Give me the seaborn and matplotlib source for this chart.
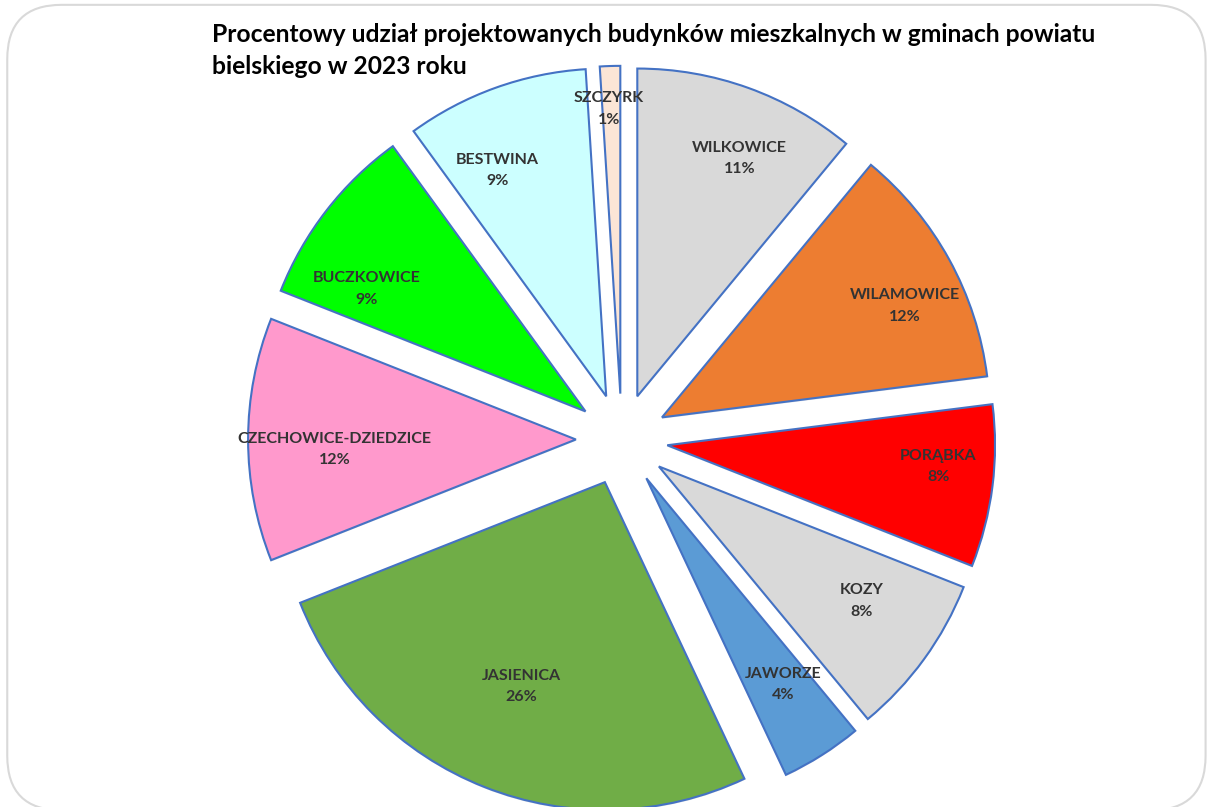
import numpy as np
import matplotlib
matplotlib.use("Agg")
import matplotlib.pyplot as plt
import seaborn as sns
from matplotlib.patches import FancyBboxPatch
import matplotlib.patheffects as pe

sns.set_theme(style="white")
plt.rcParams['font.family'] = ['Lato', 'DejaVu Sans']

gminy = ["WILKOWICE", "WILAMOWICE", "PORĄBKA", "KOZY", "JAWORZE",
         "JASIENICA", "CZECHOWICE-DZIEDZICE", "BUCZKOWICE", "BESTWINA", "SZCZYRK"]
udzial = [11, 12, 8, 8, 4, 26, 12, 9, 9, 1]
kolory = ["#D9D9D9", "#ED7D31", "#FF0000", "#D9D9D9", "#5B9BD5",
          "#70AD47", "#FF99CC", "#00FF00", "#CCFFFF", "#FBE5D6"]
tytul = ("Procentowy udział projektowanych budynków mieszkalnych w gminach powiatu\n"
         "bielskiego w 2023 roku")

# label placement inside each wedge: radial fraction and angular nudge (degrees)
label_r = [0.79, 0.815, 0.83, 0.743, 0.755, 0.673, 0.737, 0.765, 0.765, 0.87]
label_dang = [-3.5, -4.1, 2.7, 2.5, 1.1, -0.6, 2.4, 8.6, 5.9, 0.5]

fig = plt.figure(figsize=(12.08, 8.07), dpi=100)
fig.patch.set_facecolor("white")

# chart frame
frame = FancyBboxPatch((0.006, -0.004), 0.992, 0.998,
                       boxstyle="round,pad=0,rounding_size=0.045",
                       transform=fig.transFigure, facecolor="none",
                       edgecolor="#D9D9D9", linewidth=1.5, zorder=-1,
                       mutation_aspect=1.5)
fig.patches.append(frame)

ax = fig.add_axes([0.1972, -0.0198, 0.635, 0.9504])
ax.set_facecolor("none")
explode = [0.14] * len(udzial)
wedges, _ = ax.pie(udzial, colors=kolory, explode=explode, startangle=90,
                   counterclock=False, radius=1.0,
                   wedgeprops=dict(edgecolor="#4472C4", linewidth=1.5))
for w in wedges:
    w.set_path_effects([pe.SimplePatchShadow(offset=(0, -1), shadow_rgbFace="#888888", alpha=0.22),
                        pe.Normal()])

for w, name, val, lr, da in zip(wedges, gminy, udzial, label_r, label_dang):
    th = np.deg2rad((w.theta1 + w.theta2) / 2 + da)
    cx, cy = w.center
    x = cx + lr * w.r * np.cos(th)
    y = cy + lr * w.r * np.sin(th)
    ax.text(x, y, f"{name}\n{val}%", ha="center", va="center",
            fontsize=11.5, fontweight="bold", color="#333333", linespacing=1.7)

ax.set_xlim(-1.17, 1.17)
ax.set_ylim(-1.17, 1.17)
ax.set_aspect("equal")
ax.axis("off")

fig.text(0.1755, 0.972, tytul, ha="left", va="top", fontsize=17.7,
         fontweight="bold", color="#000000", linespacing=1.5)

fig.savefig("out.png", dpi=100, facecolor="white")
